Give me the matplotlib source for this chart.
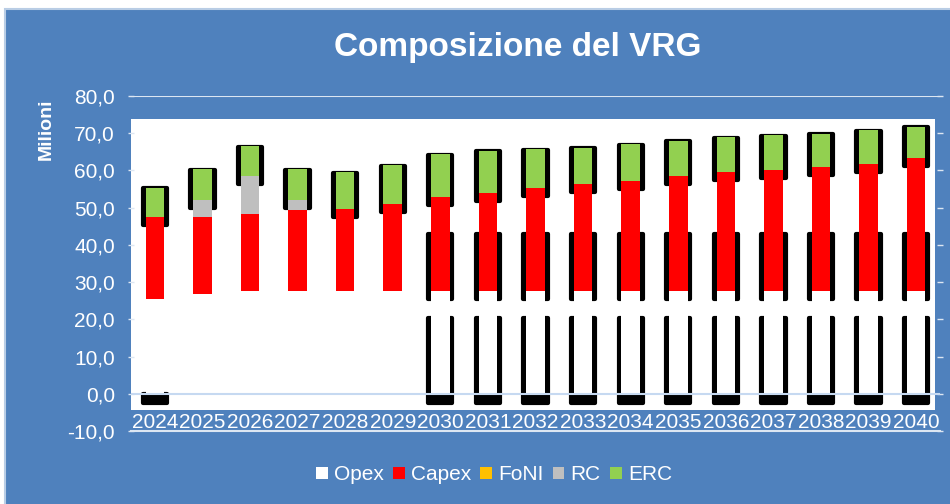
import matplotlib.pyplot as plt
import numpy as np
from matplotlib.patches import Patch, Rectangle

plt.rcParams['font.family'] = ['Liberation Sans', 'DejaVu Sans']

# valori in milioni di euro
years = [str(y) for y in range(2024, 2041)]
opex = [25.4, 26.9, 27.6, 27.6, 27.6, 27.6, 27.6, 27.6, 27.6,
        27.6, 27.6, 27.6, 27.6, 27.6, 27.6, 27.6, 27.6]
capex = [22.0, 20.5, 20.7, 21.7, 22.0, 23.4, 25.3, 26.3, 27.7,
         28.6, 29.6, 30.9, 31.9, 32.4, 33.3, 34.2, 35.7]
foni = [0.0] * 17
rc = [0.0, 4.5, 10.2, 2.6, 0.0, 0.0, 0.0, 0.0, 0.0,
      0.0, 0.0, 0.0, 0.0, 0.0, 0.0, 0.0, 0.0]
erc = [7.9, 8.4, 8.0, 8.4, 9.9, 10.4, 11.4, 11.3, 10.3,
       9.9, 9.8, 9.4, 9.3, 9.4, 8.9, 8.9, 8.4]

# black frame segments left behind by the original rendering (nan = none)
frame_mid_low = [np.nan] * 6 + [25.4] * 11
frame_mid_high = [np.nan] * 6 + [42.9] * 11
frame_low_low = [-2.35] + [np.nan] * 5 + [-2.35] * 11
frame_low_high = [0.0] + [np.nan] * 5 + [20.35] * 11

series = [('Opex', opex, '#FFFFFF'), ('Capex', capex, '#FF0000'),
          ('FoNI', foni, '#FFC000'), ('RC', rc, '#BFBFBF'),
          ('ERC', erc, '#92D050')]

BLUE = '#4F81BD'
LIGHT = '#DCE6F2'

fig = plt.figure(figsize=(9.5, 5.04), dpi=100, facecolor='white')
fig.patches.append(Rectangle((5 / 950, -0.01), 1.0, (504 - 8.5) / 504 + 0.01,
                             transform=fig.transFigure, facecolor=BLUE,
                             edgecolor='#B9CDE5', linewidth=1.5, zorder=-1))

ax = fig.add_axes([131 / 950, (504 - 431.3) / 504, 809 / 950, 335.6 / 504])
ax.set_facecolor(BLUE)
x = np.arange(len(years))

# plot area
ax.add_patch(Rectangle((-0.5, -4.3), 16.89, 78.0, facecolor='white',
                       edgecolor='none', zorder=1))
ax.axhline(80, color=LIGHT, linewidth=1.5, zorder=0.5)
ax.axhline(0, color='#C6D9F1', linewidth=1.5, zorder=3.5)

# black frames
frame_kw = dict(width=0.51, color='black', edgecolor='black', linewidth=3.0,
                joinstyle='round', zorder=2)
erc_bottom = np.array(opex) + np.array(capex) + np.array(foni) + np.array(rc)
total = erc_bottom + np.array(erc)
ax.bar(x, total - 0.15 - (erc_bottom - 2.15), bottom=erc_bottom - 2.15,
       **frame_kw)
ax.bar(x, np.array(frame_mid_high) - np.array(frame_mid_low),
       bottom=frame_mid_low, **frame_kw)
ax.bar(x, np.array(frame_low_high) - np.array(frame_low_low),
       bottom=frame_low_low, **frame_kw)

# stacked bars
bottom = np.zeros(len(years))
for name, vals, col in series:
    ax.bar(x, vals, bottom=bottom, width=0.39, color=col, linewidth=0,
           zorder=3, label=name)
    bottom += np.array(vals)

ax.set_xlim(-0.5, 16.5)
ax.set_ylim(-10, 80)
ax.set_yticks(np.arange(-10, 81, 10))
ax.set_yticklabels([f'{v:.1f}'.replace('.', ',') for v in np.arange(-10, 81, 10)])
ax.tick_params(axis='y', colors=LIGHT, labelcolor='white', labelsize=15,
               direction='inout', length=5, width=1, pad=9, right=True)
ax.set_xticks([])
for i, yr in enumerate(years):
    ax.text(i, -9.1, yr, ha='center', va='baseline', color='white',
            fontsize=15, zorder=4)

for side in ['left', 'right', 'top']:
    ax.spines[side].set_visible(False)
ax.spines['bottom'].set_color(LIGHT)
ax.spines['bottom'].set_linewidth(1.5)

fig.text(518 / 950, (504 - 55.7) / 504, 'Composizione del VRG', ha='center',
         va='baseline', color='white', fontsize=24, fontweight='bold')
fig.text(46 / 950, (504 - 129) / 504, 'Milioni', rotation=90, ha='center',
         va='center', color='white', fontsize=14, fontweight='bold')

handles = [Patch(facecolor=col, edgecolor='none', label=name)
           for name, vals, col in series]
fig.legend(handles=handles, loc='center', bbox_to_anchor=(0.52, 0.058),
           ncol=5, frameon=False, fontsize=15, labelcolor='white',
           handlelength=0.55, handleheight=0.55, handletextpad=0.3,
           columnspacing=0.45, borderpad=0)

plt.savefig('out.png', dpi=100, facecolor=fig.get_facecolor())
